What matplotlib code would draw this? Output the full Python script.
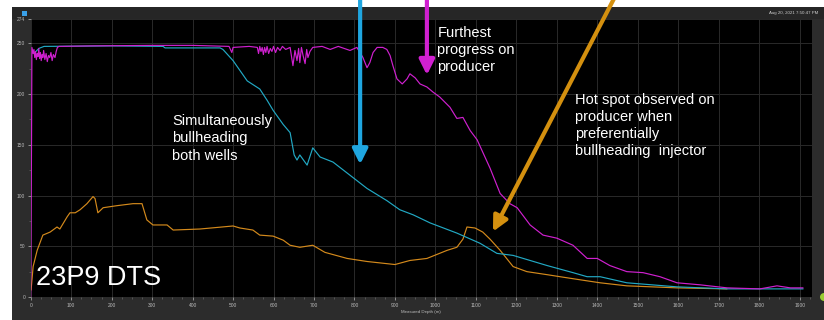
import matplotlib.pyplot as plt
from matplotlib.patches import Rectangle, Ellipse

# DTS temperature traces along the well (depth in m, temperature in deg)
prod_depth = [0, 2, 3, 6, 8, 10, 12, 14, 16, 18, 20, 22, 24, 26, 28, 30, 32, 35, 38, 41, 44, 47,
              50, 53, 56, 60, 63, 66, 70, 150, 300, 400, 490, 497, 500, 540, 560, 563, 566, 569,
              572, 575, 578, 581, 584, 588, 592, 596, 600, 605, 610, 616, 622, 630, 641, 648, 653,
              658, 662, 665, 669, 673, 678, 682, 685, 690, 697, 720, 740, 760, 789, 806, 821, 831,
              838, 846, 856, 870, 880, 888, 895, 905, 918, 930, 937, 950, 962, 979, 994, 1011,
              1036, 1053, 1068, 1086, 1103, 1135, 1160, 1184, 1202, 1234, 1266, 1300, 1340, 1375,
              1400, 1431, 1473, 1513, 1555, 1597, 1654, 1721, 1802, 1844, 1877, 1908]
prod_temp = [0, 150, 246, 240, 244, 236, 242, 234, 240, 237, 245, 235, 241, 233, 239, 236, 243,
             234, 240, 232, 238, 236, 241, 233, 239, 236, 242, 246, 247, 247.5, 248, 248, 247, 241,
             246, 247, 246, 240, 247, 242, 246, 239, 246, 241, 247, 240, 245, 242, 247, 241, 246,
             243, 247, 244, 246, 228, 243, 233, 245, 231, 246, 238, 230, 244, 236, 242, 246, 247,
             244, 247, 243, 246, 236, 226, 231, 241, 246, 246, 244, 238, 228, 215, 210, 215, 220,
             216, 210, 207, 202, 197, 187, 176, 177, 164, 155, 127, 102, 92, 88, 71, 61, 58, 51,
             38, 38, 31, 25, 24, 20, 14, 12, 9, 8, 11, 9, 9]

inj_depth = [8, 20, 33, 200, 327, 332, 468, 475, 500, 535, 566, 584, 599, 624, 641, 651, 658,
             665, 683, 697, 715, 747, 789, 831, 880, 912, 945, 987, 1053, 1110, 1152, 1192, 1276,
             1340, 1375, 1407, 1473, 1597, 1721, 1908]
inj_temp = [240, 245, 247, 247.5, 247, 245.5, 245.5, 244, 233, 213, 205, 194, 184, 170, 162,
            140, 135, 140, 130, 147, 138, 133, 120, 107, 95, 86, 81, 73, 63, 53, 43, 41, 31, 24,
            20, 20, 14, 10, 8, 8]

hot_depth = [1, 6, 16, 30, 48, 65, 72, 90, 97, 110, 122, 139, 154, 159, 166, 179, 213, 253, 275,
             287, 302, 337, 352, 418, 500, 517, 549, 566, 599, 624, 641, 665, 697, 727, 782, 831,
             900, 937, 979, 1029, 1053, 1068, 1078, 1098, 1117, 1135, 1160, 1192, 1226, 1276,
             1308, 1357, 1407, 1473, 1597, 1720]
hot_temp = [7, 30, 46, 61, 64, 69, 67, 79, 83, 83, 86, 92, 99, 97, 83, 88, 90, 92, 92, 76, 71,
            71, 66, 67, 70, 68, 66, 61, 60, 56, 51, 49, 51, 44, 38, 35, 32, 36, 38, 46, 49, 57,
            69, 68, 64, 57, 46, 30, 25, 22, 20, 17, 14, 11, 9, 8]

y_ticks = [0, 50, 100, 150, 200, 250, 274]
x_ticks = list(range(0, 2000, 100))

W, H = 824, 320
fig = plt.figure(figsize=(W / 100, H / 100), dpi=100, facecolor='white')
plt.rcParams['font.family'] = ['Liberation Sans', 'DejaVu Sans']

# dark instrument panel with header strip, kept behind the axes
fig.patches.append(Rectangle((12 / W, 0), 1 - 12 / W, (H - 7) / H, transform=fig.transFigure,
                             facecolor='#2c2c2c', edgecolor='none', zorder=-10))
fig.patches.append(Rectangle((12 / W, (H - 19) / H), 1 - 12 / W, 12 / H, transform=fig.transFigure,
                             facecolor='#262626', edgecolor='none', zorder=-9))

x0, x1 = 30.7, 812
y_top, y_bot = 19, 297
ax = fig.add_axes([x0 / W, (H - y_bot) / H, (x1 - x0) / W, (y_bot - y_top) / H])
ax.set_facecolor('black')
ax.set_xlim(0, (x1 - x0) / 0.4047)
ax.set_ylim(0, 274)

ax.set_xticks(x_ticks)
ax.set_xticks(range(0, 1950, 25), minor=True)
ax.set_yticks(y_ticks)
ax.set_yticks(range(0, 275, 25), minor=True)
ax.tick_params(colors='#bbbbbb', labelsize=3.5, length=2, width=0.5, pad=2)
ax.tick_params(which='minor', colors='#666666', length=1.5, width=0.5)
ax.grid(True, color='#2a2a2a', linewidth=0.7)
for s in ax.spines.values():
    s.set_visible(False)
ax.set_xlabel('Measured Depth (m)', color='#bbbbbb', fontsize=3.2, labelpad=2)

ax.plot(hot_depth, hot_temp, color='#d48a1c', lw=0.85)
ax.plot(inj_depth, inj_temp, color='#22a9c4', lw=0.85)
ax.plot(prod_depth, prod_temp, color='#d020d0', lw=0.85)

# callout arrows come in from above the panel
arrow_kw = dict(xycoords='data', textcoords='data', annotation_clip=False)
ax.annotate('', xy=(814, 128), xytext=(814, 300),
            arrowprops=dict(arrowstyle='-|>,head_length=0.9,head_width=0.45', color='#1fa6e0', lw=3),
            **arrow_kw)
ax.annotate('', xy=(979, 216), xytext=(979, 300),
            arrowprops=dict(arrowstyle='-|>,head_length=0.9,head_width=0.45', color='#d020d0', lw=3),
            **arrow_kw)
ax.annotate('', xy=(1139, 62), xytext=(1449, 300),
            arrowprops=dict(arrowstyle='-|>,head_length=0.9,head_width=0.45', color='#d4900f', lw=3),
            **arrow_kw)

txt = dict(color='white', fontsize=10.5, va='top', ha='left', linespacing=1.28)
ax.text(1005, 267, 'Furthest\nprogress on\nproducer', **txt)
ax.text(349, 180, 'Simultaneously\nbullheading\nboth wells', **txt)
ax.text(1345, 201, 'Hot spot observed on\nproducer when\npreferentially\nbullheading  injector', **txt)
ax.text(14, 6, '23P9 DTS', color='white', fontsize=19.5, va='bottom', ha='left')

fig.text(818 / W, (H - 13) / H, 'Aug 20, 2021 7:50:47 PM', color='#cccccc', fontsize=3.2,
         ha='right', va='center')
fig.patches.append(Rectangle((22 / W, (H - 16) / H), 5 / W, 5 / H, transform=fig.transFigure,
                             facecolor='#3aa0e8', edgecolor='none'))
fig.patches.append(Ellipse((824 / W, (H - 297) / H), 8 / W, 8 / H, transform=fig.transFigure,
                           facecolor='#9acd32', edgecolor='none'))

fig.savefig('out.png', dpi=100, facecolor=fig.get_facecolor())
